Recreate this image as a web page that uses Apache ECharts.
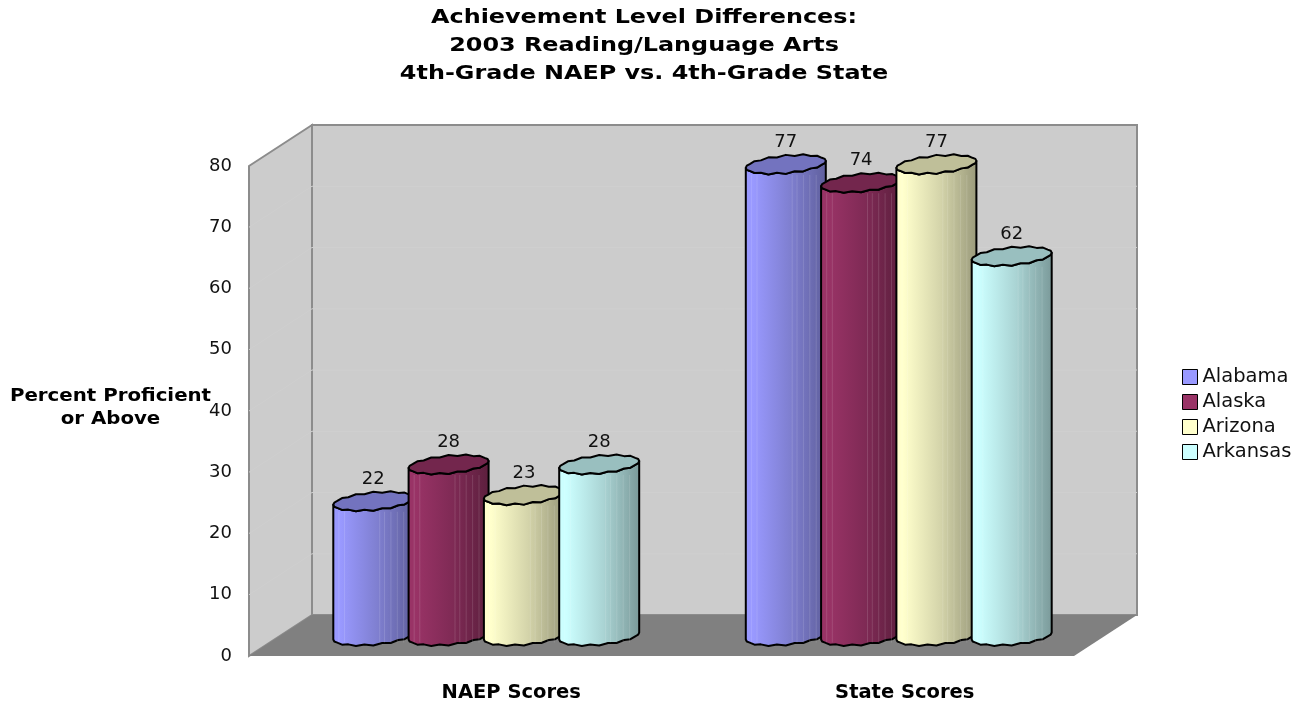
<!DOCTYPE html>
<html>
<head>
<meta charset="utf-8">
<style>html,body{margin:0;padding:0;background:#fff}#c{width:1303px;height:702px}</style>
<script src="https://cdn.jsdelivr.net/npm/echarts@6/dist/echarts.min.js"></script>
</head>
<body>
<div id="c"></div>
<script>
var categories = ['NAEP Scores', 'State Scores'];
var states = ['Alabama', 'Alaska', 'Arizona', 'Arkansas'];
var alabama = [22, 77];
var alaska = [28, 74];
var arizona = [23, 77];
var arkansas = [28, 62];
var yTicks = [0, 10, 20, 30, 40, 50, 60, 70, 80];
var titleLines = ['Achievement Level Differences:', '2003 Reading/Language Arts', '4th-Grade NAEP vs. 4th-Grade State'];
var yNameLines = ['Percent Proficient', 'or Above'];

var seriesValues = [alabama, alaska, arizona, arkansas];
var palette = [
  {main: '#9999ff', mid: '#7f7fd0', dark: '#5f5f9c', cap: '#7373bf'},
  {main: '#993366', mid: '#7f2a55', dark: '#5c1f3d', cap: '#73264d'},
  {main: '#ffffcc', mid: '#d4d4aa', dark: '#99997a', cap: '#bfbf99'},
  {main: '#ccffff', mid: '#aad4d4', dark: '#7a9999', cap: '#99bfbf'}
];
var FONT = '"DejaVu Sans", Verdana, sans-serif';
var DEPTH_X = 63, DEPTH_Y = 41;
var MID_X = 31, MID_Y = 20;
var STEP = 75.3, RX = 40, RY = 8.5, TILT = 3.5;
var STRIPES = [0.07, 0.14, 0.58, 0.64, 0.72, 0.80, 0.88];

function ring(cx, cy, from, to, n) {
  var pts = [];
  for (var i = 0; i <= n; i++) {
    var t = from + (to - from) * i / n;
    var wob = (i % 2 ? 1 : -0.6);
    pts.push([cx + RX * Math.cos(t), cy + (RY + wob) * Math.sin(t) - TILT * Math.cos(t)]);
  }
  return pts;
}

function wallItem(params, api) {
  var cs = params.coordSys;
  var x0 = cs.x, x1 = cs.x + cs.width, y0 = cs.y + cs.height, y1 = cs.y;
  var border = {stroke: '#8c8c8c', lineWidth: 2, lineJoin: 'miter'};
  var kids = [
    {type: 'polygon', shape: {points: [[x0 + DEPTH_X, y1 - DEPTH_Y], [x1 + DEPTH_X, y1 - DEPTH_Y], [x1 + DEPTH_X, y0 - DEPTH_Y], [x0 + DEPTH_X, y0 - DEPTH_Y]]},
      style: Object.assign({fill: '#cccccc'}, border)},
    {type: 'polygon', shape: {points: [[x0, y1], [x0 + DEPTH_X, y1 - DEPTH_Y], [x0 + DEPTH_X, y0 - DEPTH_Y], [x0, y0]]},
      style: Object.assign({fill: '#cccccc'}, border)}
  ];
  yTicks.forEach(function (t) {
    if (t === 0 || t === 80) return;
    var y = api.coord([0, t])[1];
    kids.push({type: 'polyline', shape: {points: [[x0, y], [x0 + DEPTH_X, y - DEPTH_Y], [x1 + DEPTH_X, y - DEPTH_Y]]},
      style: {stroke: '#cfcfcf', lineWidth: 1, fill: 'none'}});
  });
  kids.push({type: 'polygon', shape: {points: [[x0, y0], [x1, y0], [x1 + DEPTH_X, y0 - DEPTH_Y], [x0 + DEPTH_X, y0 - DEPTH_Y]]},
    style: {fill: '#808080'}});
  return {type: 'group', children: kids};
}

function cylinderItem(si) {
  return function (params, api) {
    var cat = api.value(0), val = api.value(1);
    var base = api.coord([cat, 0]);
    var top = api.coord([cat, val]);
    var cx = base[0] + MID_X + (si - 1.5) * STEP;
    var by = base[1] - MID_Y, ty = top[1] - MID_Y;
    var c = palette[si];
    var body = [[cx - RX, ty + TILT]].concat(ring(cx, by, Math.PI, 0, 14)).concat([[cx + RX, ty - TILT]]).concat(ring(cx, ty, 0, Math.PI, 14));
    var grad = new echarts.graphic.LinearGradient(0, 0, 1, 0, [
      {offset: 0, color: c.main}, {offset: 0.1, color: c.main}, {offset: 0.55, color: c.mid}, {offset: 1, color: c.dark}
    ]);
    var kids = [{type: 'polygon', shape: {points: body}, style: {fill: grad, stroke: '#000', lineWidth: 2, lineJoin: 'round'}}];
    STRIPES.forEach(function (p) {
      var x = cx - RX + 2 * RX * p;
      kids.push({type: 'line', shape: {x1: x, y1: ty + RY + 2, x2: x, y2: by + RY - 2},
        style: {stroke: 'rgba(255,255,255,0.13)', lineWidth: 1}});
    });
    kids.push({type: 'polygon', shape: {points: ring(cx, ty, 0, Math.PI * 2, 28)},
      style: {fill: c.cap, stroke: '#000', lineWidth: 2, lineJoin: 'round'}});
    kids.push({type: 'text', x: cx, y: ty - 22, style: {text: String(val), fill: '#111', font: '18px ' + FONT, align: 'center', verticalAlign: 'middle'}});
    return {type: 'group', children: kids};
  };
}

var series = [{
  type: 'custom', name: 'walls', silent: true, z: 1, clip: false,
  renderItem: wallItem, data: [[0, 0]], encode: {x: 0, y: 1}
}];
states.forEach(function (name, si) {
  series.push({
    type: 'custom', name: name, z: 2 + si, clip: false,
    itemStyle: {color: palette[si].main},
    renderItem: cylinderItem(si),
    encode: {x: 0, y: 1},
    data: seriesValues[si].map(function (v, i) { return [i, v]; })
  });
});

var chart = echarts.init(document.getElementById('c'), null, {renderer: 'canvas'});
chart.setOption({
  animation: false,
  backgroundColor: '#fff',
  graphic: [{
    type: 'text', x: 644, y: 4, scaleX: 1.225,
    style: {text: titleLines.join('\n'), font: 'bold 19.5px ' + FONT, lineHeight: 28, fill: '#000', align: 'center', verticalAlign: 'top'}
  }, {
    type: 'text', x: 110.5, y: 385, scaleX: 1.13,
    style: {text: yNameLines.join('\n'), font: 'bold 17.5px ' + FONT, lineHeight: 23, fill: '#000', align: 'center', verticalAlign: 'top'}
  }],
  legend: {
    data: states, orient: 'vertical', left: 1182, top: 367, padding: 0, icon: 'rect', itemWidth: 15, itemHeight: 15, itemGap: 5,
    textStyle: {fontFamily: FONT, fontSize: 19.5, color: '#111'},
    itemStyle: {borderColor: '#000', borderWidth: 1},
    selectedMode: false
  },
  grid: {left: 249, top: 166, width: 825, height: 490, outerBoundsMode: 'none'},
  xAxis: {
    type: 'category', data: categories,
    axisLine: {show: false}, axisTick: {show: false},
    axisLabel: {
      margin: 27, color: '#000',
      formatter: function (v, i) { return '{c' + i + '|' + v + '}'; },
      rich: {
        c0: {fontFamily: FONT, fontWeight: 'bold', fontSize: 19.5, color: '#000', padding: [0, 0, 0, 112]},
        c1: {fontFamily: FONT, fontWeight: 'bold', fontSize: 19.5, color: '#000', padding: [0, 0, 0, 74]}
      }
    }
  },
  yAxis: {
    type: 'value', min: 0, max: 80, interval: 10,
    axisLine: {show: false}, axisTick: {show: false}, splitLine: {show: false},
    axisLabel: {margin: 17, fontFamily: FONT, fontSize: 18, color: '#111'}
  },
  tooltip: {show: false},
  series: series
});
</script>
</body>
</html>
